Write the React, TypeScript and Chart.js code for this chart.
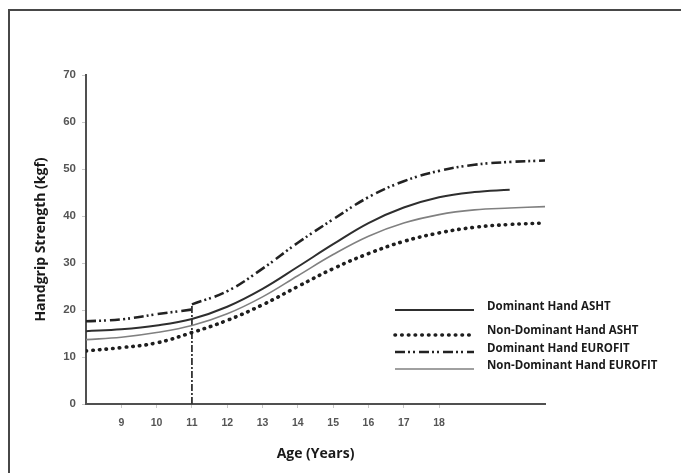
import { useEffect, useRef } from "react";
import { Chart, registerables } from "chart.js";

Chart.register(...registerables);

// ---- data ----
const ages = [8, 9, 10, 11, 12, 13, 14, 15, 16, 17, 18, 19, 20, 21];
const xTickValues = [9, 10, 11, 12, 13, 14, 15, 16, 17, 18];
const yTickValues = [0, 10, 20, 30, 40, 50, 60, 70];

const dominantASHT = [15.5, 15.9, 16.7, 18.1, 20.7, 24.5, 29.2, 34.0, 38.5, 41.8, 44.0, 45.1, 45.6];
const nonDominantASHT = [11.3, 12.0, 13.0, 15.2, 17.8, 21.1, 25.0, 28.8, 32.0, 34.6, 36.4, 37.6, 38.2, 38.5];
const dominantEUROFITBefore11 = [17.6, 18.0, 19.1, 20.1];
const dominantEUROFITFrom11 = [21.2, 24.0, 28.8, 34.3, 39.3, 44.0, 47.4, 49.6, 50.9, 51.5, 51.8];
const nonDominantEUROFIT = [13.7, 14.2, 15.2, 16.7, 19.2, 22.8, 27.3, 31.8, 35.7, 38.5, 40.3, 41.3, 41.7, 42.0];
const markerAge = [11, 11];
const markerValues = [0, 21.2];

const legendLabels = [
  "Dominant Hand ASHT",
  "Non-Dominant Hand ASHT",
  "Dominant Hand EUROFIT",
  "Non-Dominant Hand EUROFIT",
];

const pts = (xs: number[], ys: number[], offset = 0) =>
  ys.map((y, i) => ({ x: xs[i + offset], y }));

const styles = [
  { color: "#2e2e2e", width: 2, dash: [] as number[], cap: "butt" as CanvasLineCap },
  { color: "#1e1e1e", width: 3.6, dash: [0.5, 6.2], cap: "round" as CanvasLineCap },
  { color: "#222222", width: 2.6, dash: [10, 3, 2, 3, 2, 4], cap: "butt" as CanvasLineCap },
  { color: "#808080", width: 1.6, dash: [] as number[], cap: "butt" as CanvasLineCap },
];

const decor = {
  id: "decor",
  beforeDraw(chart: any) {
    const ctx = chart.ctx as CanvasRenderingContext2D;
    ctx.save();
    ctx.fillStyle = "#ffffff";
    ctx.fillRect(0, 0, chart.width, chart.height);
    ctx.strokeStyle = "#474747";
    ctx.lineWidth = 2;
    ctx.beginPath();
    ctx.moveTo(9, chart.height + 2);
    ctx.lineTo(9, 10);
    ctx.lineTo(chart.width + 2, 10);
    ctx.stroke();
    ctx.restore();
  },
  afterDraw(chart: any) {
    const ctx = chart.ctx as CanvasRenderingContext2D;
    const lineY = [310, 335, 352, 369];
    const textY = [307, 331, 349, 366];
    ctx.save();
    legendLabels.forEach((label, i) => {
      const s = styles[i];
      ctx.strokeStyle = s.color;
      ctx.lineWidth = s.width;
      ctx.lineCap = s.cap;
      ctx.setLineDash(s.dash);
      ctx.beginPath();
      ctx.moveTo(395, lineY[i]);
      ctx.lineTo(474, lineY[i]);
      ctx.stroke();
      ctx.setLineDash([]);
      ctx.fillStyle = "#1a1a1a";
      ctx.font = "bold 11.5px 'Open Sans'";
      ctx.textBaseline = "middle";
      ctx.textAlign = "left";
      ctx.fillText(label, 487, textY[i]);
    });
    ctx.restore();
  },
};

export default function App() {
  const ref = useRef<HTMLCanvasElement>(null);
  useEffect(() => {
    const mk = (data: any[], i: number) => ({
      data,
      borderColor: styles[i].color,
      borderWidth: styles[i].width,
      borderDash: styles[i].dash,
      borderCapStyle: styles[i].cap,
      pointRadius: 0,
      fill: false,
      tension: 0.4,
    });
    const chart = new Chart(ref.current!, {
      type: "line",
      data: {
        datasets: [
          { label: legendLabels[0], ...mk(pts(ages, dominantASHT), 0) },
          { label: legendLabels[1], ...mk(pts(ages, nonDominantASHT), 1) },
          { label: legendLabels[2], ...mk(pts(ages, dominantEUROFITBefore11), 2) },
          { label: legendLabels[2], ...mk(pts(ages, dominantEUROFITFrom11, 3), 2) },
          { label: legendLabels[3], ...mk(pts(ages, nonDominantEUROFIT), 3) },
          {
            label: "marker",
            data: pts(markerAge, markerValues),
            borderColor: "#333333",
            borderWidth: 1.8,
            borderDash: [7, 2, 2, 2],
            pointRadius: 0,
            fill: false,
          },
        ],
      },
      options: {
        responsive: false,
        animation: false,
        devicePixelRatio: 1,
        layout: { padding: { top: 75, right: 136, bottom: 0, left: 0 } },
        plugins: { legend: { display: false }, tooltip: { enabled: false } },
        scales: {
          x: {
            type: "linear",
            min: 8,
            max: 21,
            afterBuildTicks: (s: any) => {
              s.ticks = xTickValues.map((v) => ({ value: v }));
            },
            afterFit: (s: any) => {
              s.height = 69;
            },
            ticks: {
              color: "#555555",
              font: { family: "Liberation Sans", size: 10.5, weight: "bold" },
              padding: 9,
              maxRotation: 0,
              autoSkip: false,
            },
            grid: { drawOnChartArea: false, drawTicks: true, tickLength: 4, color: "#c8c8c8" },
            border: { display: true, color: "#505050", width: 2 },
            title: {
              display: true,
              text: "Age (Years)",
              color: "#1a1a1a",
              font: { family: "Open Sans", size: 14, weight: "bold" },
              padding: { top: 0, bottom: 11 },
            },
          },
          y: {
            min: 0,
            max: 70,
            afterBuildTicks: (s: any) => {
              s.ticks = yTickValues.map((v) => ({ value: v }));
            },
            afterFit: (s: any) => {
              s.width = 86;
            },
            ticks: {
              color: "#555555",
              font: { family: "Liberation Sans", size: 11.5, weight: "bold" },
              padding: 6,
            },
            grid: { drawOnChartArea: false, drawTicks: true, tickLength: 4, color: "#c8c8c8" },
            border: { display: true, color: "#505050", width: 2 },
            title: {
              display: true,
              text: "Handgrip Strength (kgf)",
              color: "#1a1a1a",
              font: { family: "Open Sans", size: 14, weight: "bold" },
              padding: { top: 33, bottom: 0 },
            },
          },
        },
      },
      plugins: [decor],
    });
    return () => chart.destroy();
  }, []);
  return (
    <div style={{ position: "absolute", left: 0, top: 0, width: 681, height: 473 }}>
      <canvas ref={ref} width={681} height={473} style={{ display: "block", width: 681, height: 473 }} />
    </div>
  );
}
